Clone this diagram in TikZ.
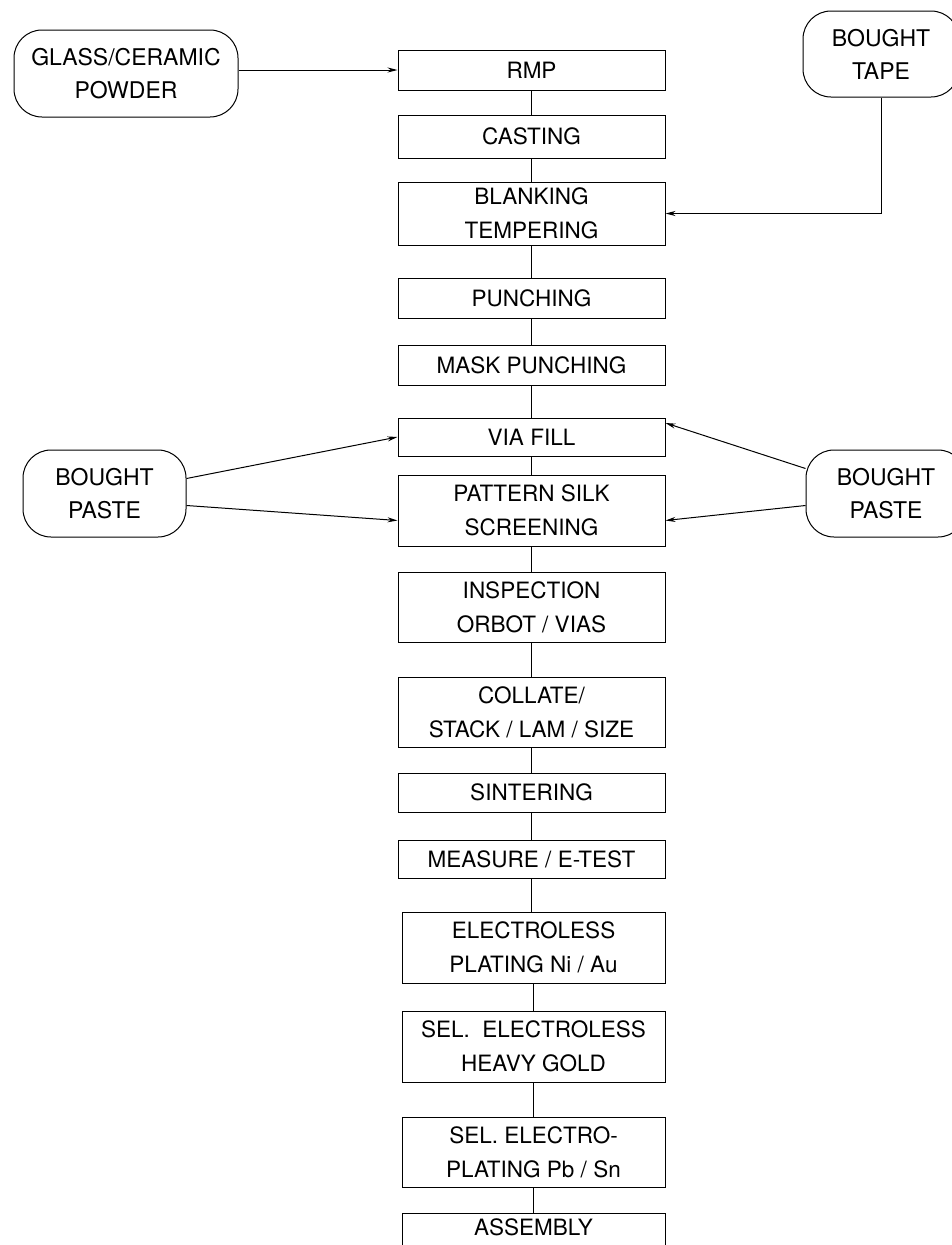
\documentclass[tikz,border=0pt]{standalone}
\usepackage{fontspec}
\setmainfont{TeX Gyre Heros}
\usetikzlibrary{arrows.meta,positioning}

\begin{document}
\begin{tikzpicture}[x=1pt,y=-1pt,
        proc/.style={draw,line width=1pt,align=center,minimum width=267pt,inner sep=0pt,
                     font=\fontsize{22.5}{33}\selectfont},
        single/.style={proc,minimum height=40pt},
        double/.style={proc,minimum height=70pt,font=\fontsize{22.5}{34}\selectfont,
                       execute at begin node={\rule{0pt}{27pt}}},
        supply/.style={draw,line width=1pt,rounded corners=28pt,align=center,inner sep=0pt,
                       font=\fontsize{23}{33}\selectfont},
        feed/.style={line width=1pt,-{Stealth[length=10pt,width=5pt]}},
        link/.style={line width=1pt}
      ]
  \clip (0,0) rectangle (952,1245);
  \useasboundingbox (0,0) rectangle (952,1245);

  % main flow
  \node (rmp)      [single] at (531.5,70)   {RMP};
  \node (casting)  [single,minimum height=43pt] at (531.5,136.5) {CASTING};
  \node (blanking) [double,minimum height=63pt] at (531.5,213.5) {BLANKING\\TEMPERING};
  \node (punch)    [single] at (531.5,298)  {PUNCHING};
  \node (mask)     [single] at (531.5,365)  {MASK PUNCHING};
  \node (via)      [single,minimum height=38pt] at (531.5,437) {VIA FILL};
  \node (pattern)  [double,minimum height=71pt] at (531.5,510.5) {PATTERN SILK\\SCREENING};
  \node (inspect)  [double] at (531.5,607)  {INSPECTION\\ORBOT / VIAS};
  \node (collate)  [double] at (531.5,712)  {COLLATE/\\STACK / LAM / SIZE};
  \node (sinter)   [single,minimum height=39pt] at (531.5,792.5) {SINTERING};
  \node (measure)  [single,minimum height=38pt] at (531.5,859) {MEASURE / E-TEST};
  \node (eless)    [double,minimum width=263pt,minimum height=71pt] at (533.5,947.5) {ELECTROLESS\\PLATING Ni / Au};
  \node (gold)     [double,minimum width=263pt,minimum height=71pt] at (533.5,1046.5) {SEL.\ \ ELECTROLESS\\HEAVY GOLD};
  \node (eplate)   [double,minimum width=263pt] at (533.5,1152) {SEL. ELECTRO-\\PLATING Pb / Sn};
  \node (assembly) [proc,minimum width=263pt,minimum height=56pt,text depth=28pt] at (533.5,1241) {ASSEMBLY};

  \foreach \a/\b in {rmp/casting,casting/blanking,blanking/punch,punch/mask,mask/via,
                     via/pattern,pattern/inspect,inspect/collate,collate/sinter,sinter/measure,
                     measure/eless,eless/gold,gold/eplate,eplate/assembly}
    \draw[link] (\a.south) -- (\a.south |- \b.north);

  % supplies
  \node (powder) [supply,minimum width=224pt,minimum height=87pt] at (126,73.5) {GLASS/CERAMIC\\POWDER};
  \node (tape)   [supply,minimum width=156pt,minimum height=86pt] at (881,54) {BOUGHT\\TAPE};
  \node (pasteL) [supply,minimum width=163pt,minimum height=87pt] at (104.5,493.5) {BOUGHT\\PASTE};
  \node (pasteR) [supply,minimum width=160pt,minimum height=87pt] at (886,493.5) {BOUGHT\\PASTE};

  \draw[feed] (powder.east |- rmp) -- (rmp.west);
  \coordinate (tapebend) at (tape.south |- blanking);
  \draw[feed] (tape.south) -- (tapebend) -- (blanking.east);

  \draw[feed] ([yshift=15pt]pasteL.east) -- (via.west);
  \draw[feed] ([yshift=-12pt]pasteL.east) -- ([yshift=-10pt]pattern.west);
  \draw[feed] ([yshift=25pt]pasteR.west) -- ([yshift=14pt]via.east);
  \draw[feed] ([yshift=-12pt]pasteR.west) -- ([yshift=-10pt]pattern.east);

\end{tikzpicture}
\end{document}
